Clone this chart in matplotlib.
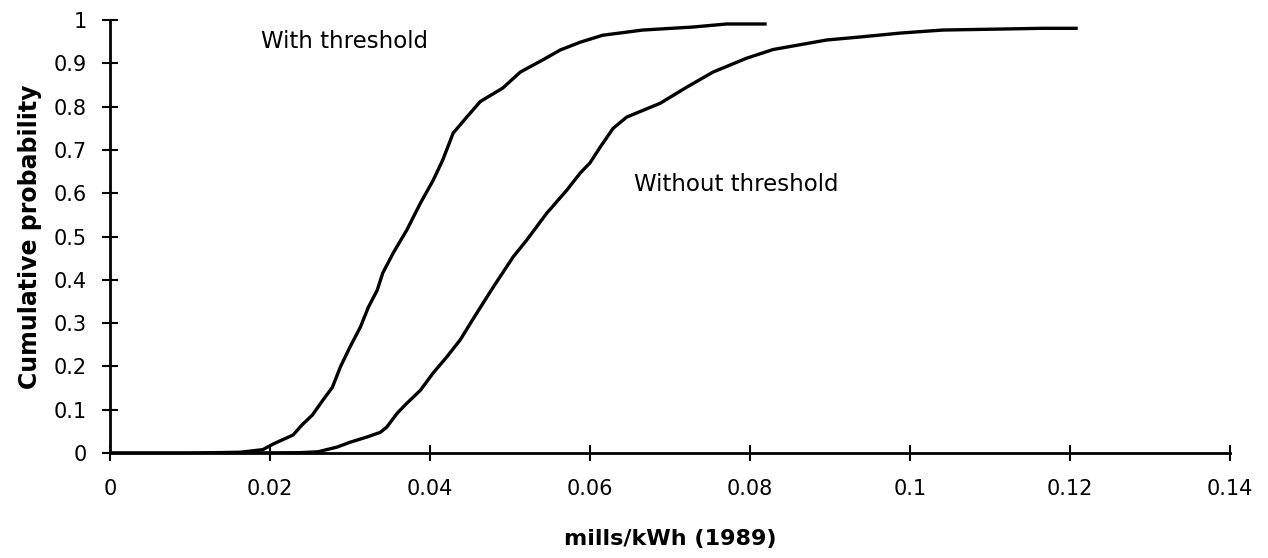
import matplotlib.pyplot as plt

# cumulative distributions
with_x = [0, 0.010, 0.0163, 0.0191, 0.0204, 0.0229, 0.0240, 0.0253, 0.0266,
          0.0278, 0.0288, 0.0300, 0.0313, 0.0323, 0.0334, 0.0341, 0.0354,
          0.0371, 0.0388, 0.0404, 0.0416, 0.0429, 0.0446, 0.0463, 0.0491,
          0.0513, 0.0541, 0.0563, 0.0588, 0.0616, 0.0666, 0.0729, 0.0771,
          0.0821]
with_y = [0, 0, 0.002, 0.008, 0.021, 0.042, 0.065, 0.088, 0.122, 0.152,
          0.199, 0.245, 0.291, 0.337, 0.376, 0.416, 0.462, 0.515, 0.577,
          0.630, 0.677, 0.739, 0.776, 0.812, 0.843, 0.880, 0.908, 0.931,
          0.949, 0.965, 0.977, 0.984, 0.991, 0.991]

without_x = [0, 0.015, 0.0238, 0.0260, 0.0284, 0.0300, 0.0321, 0.0338,
             0.0346, 0.0359, 0.0371, 0.0388, 0.0404, 0.0421, 0.0438, 0.0454,
             0.0479, 0.0504, 0.0521, 0.0546, 0.0571, 0.0588, 0.0600, 0.0613,
             0.0629, 0.0646, 0.0688, 0.0721, 0.0754, 0.0796, 0.0829, 0.0896,
             0.0938, 0.0988, 0.1041, 0.1104, 0.1166, 0.1210]
without_y = [0, 0, 0.001, 0.003, 0.014, 0.025, 0.037, 0.048, 0.060, 0.092,
             0.115, 0.145, 0.185, 0.222, 0.262, 0.310, 0.383, 0.453, 0.492,
             0.554, 0.607, 0.647, 0.670, 0.707, 0.750, 0.776, 0.808, 0.845,
             0.880, 0.912, 0.932, 0.954, 0.961, 0.970, 0.977, 0.979, 0.981,
             0.981]

x_ticks = [0, 0.02, 0.04, 0.06, 0.08, 0.1, 0.12, 0.14]
x_labels = ["0", "0.02", "0.04", "0.06", "0.08", "0.1", "0.12", "0.14"]
y_ticks = [0, 0.1, 0.2, 0.3, 0.4, 0.5, 0.6, 0.7, 0.8, 0.9, 1]
y_labels = ["0", "0.1", "0.2", "0.3", "0.4", "0.5", "0.6", "0.7", "0.8", "0.9", "1"]

plt.rcParams["font.family"] = "DejaVu Sans"

fig = plt.figure(figsize=(12.68, 5.58), dpi=100)
ax = fig.add_axes([0.0868, 0.188, 0.883, 0.776])

ax.plot(with_x, with_y, color="black", lw=2.4, solid_capstyle="butt")
ax.plot(without_x, without_y, color="black", lw=2.4, solid_capstyle="butt")

ax.set_xlim(0, 0.14)
ax.set_ylim(0, 1)
ax.set_xticks(x_ticks)
ax.set_xticklabels(x_labels)
ax.set_yticks(y_ticks)
ax.set_yticklabels(y_labels)

for side in ("top", "right"):
    ax.spines[side].set_visible(False)
for side in ("left", "bottom"):
    ax.spines[side].set_linewidth(2)
    ax.spines[side].set_clip_on(False)

ax.tick_params(axis="both", direction="inout", length=12, width=1.5,
               labelsize=15, colors="black")
ax.tick_params(axis="x", pad=13)
ax.tick_params(axis="y", pad=11)

ax.set_xlabel("mills/kWh (1989)", fontsize=16, fontweight="bold", labelpad=21)
ax.set_ylabel("Cumulative probability", fontsize=17, fontweight="bold",
              labelpad=8)

ax.text(0.0189, 0.95, "With threshold", fontsize=16.5, ha="left", va="center")
ax.text(0.0655, 0.62, "Without threshold", fontsize=16.5, ha="left",
        va="center")

fig.savefig("out.png", dpi=100)
